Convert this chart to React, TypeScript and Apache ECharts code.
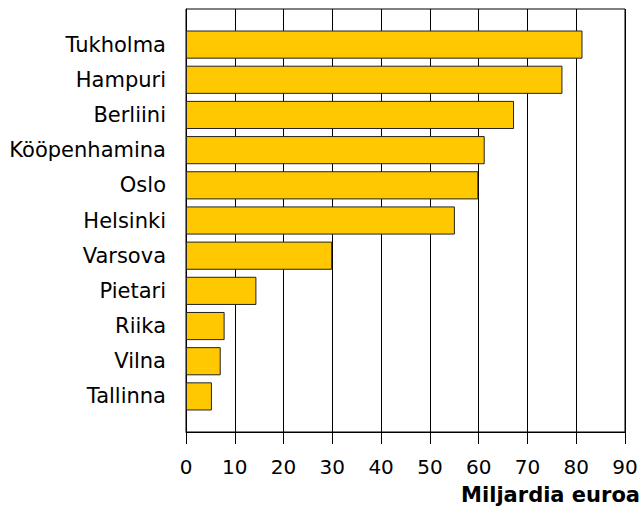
import React, { useEffect, useRef } from "react";
import * as echarts from "echarts";

const cities = [
  "Tukholma",
  "Hampuri",
  "Berliini",
  "Kööpenhamina",
  "Oslo",
  "Helsinki",
  "Varsova",
  "Pietari",
  "Riika",
  "Vilna",
  "Tallinna",
];
const values = [81.1, 77.0, 67.1, 61.1, 59.8, 55.0, 29.9, 14.4, 7.9, 7.1, 5.3];
const axisName = "Miljardia euroa";
const xMin = 0;
const xMax = 90;
const xStep = 10;

const FONT = "DejaVu Sans";

export default function App() {
  const ref = useRef<HTMLDivElement>(null);
  useEffect(() => {
    if (!ref.current) return;
    const chart = echarts.init(ref.current, undefined, { renderer: "svg" });
    chart.setOption({
      animation: false,
      backgroundColor: "#fff",
      grid: [
        // bars
        { left: 186, right: 17, top: 27, bottom: 95 },
        // frame + value axis
        {
          left: 186,
          right: 17,
          top: 9,
          bottom: 77,
          show: true,
          borderColor: "#000",
          borderWidth: 1,
          backgroundColor: "transparent",
        },
      ],
      xAxis: [
        {
          type: "value",
          gridIndex: 0,
          min: xMin,
          max: xMax,
          interval: xStep,
          show: false,
          splitLine: { show: false },
        },
        {
          type: "value",
          gridIndex: 1,
          min: xMin,
          max: xMax,
          interval: xStep,
          name: axisName,
          nameLocation: "end",
          nameGap: 15,
          nameTextStyle: {
            fontFamily: FONT,
            fontSize: 21,
            fontWeight: "bold",
            color: "#000",
            align: "right",
            verticalAlign: "top",
            padding: [52, 0, 0, 0],
          },
          axisLine: { show: true, lineStyle: { color: "#000", width: 1 } },
          axisTick: { show: true, length: 12, lineStyle: { color: "#000", width: 1 } },
          axisLabel: {
            margin: 25,
            fontFamily: FONT,
            fontSize: 20,
            color: "#000",
          },
          splitLine: { show: true, lineStyle: { color: "#000", width: 1 } },
        },
      ],
      yAxis: [
        {
          type: "category",
          gridIndex: 0,
          data: cities,
          inverse: true,
          axisLine: { show: false },
          axisTick: { show: false },
          axisLabel: {
            margin: 20,
            fontFamily: FONT,
            fontSize: 21,
            color: "#000",
          },
          splitLine: { show: false },
        },
        {
          type: "value",
          gridIndex: 1,
          min: 0,
          max: 1,
          axisLine: { show: true, lineStyle: { color: "#000", width: 1 } },
          axisTick: { show: false },
          axisLabel: { show: false },
          splitLine: { show: false },
        },
      ],
      series: [
        {
          type: "bar",
          xAxisIndex: 0,
          yAxisIndex: 0,
          data: values,
          barCategoryGap: "20%",
          itemStyle: {
            color: "#FFC800",
            borderColor: "#222",
            borderWidth: 1,
          },
        },
      ],
    });
    return () => chart.dispose();
  }, []);
  return (
    <div
      ref={ref}
      style={{ position: "absolute", left: 0, top: 0, width: 643, height: 509 }}
    />
  );
}
